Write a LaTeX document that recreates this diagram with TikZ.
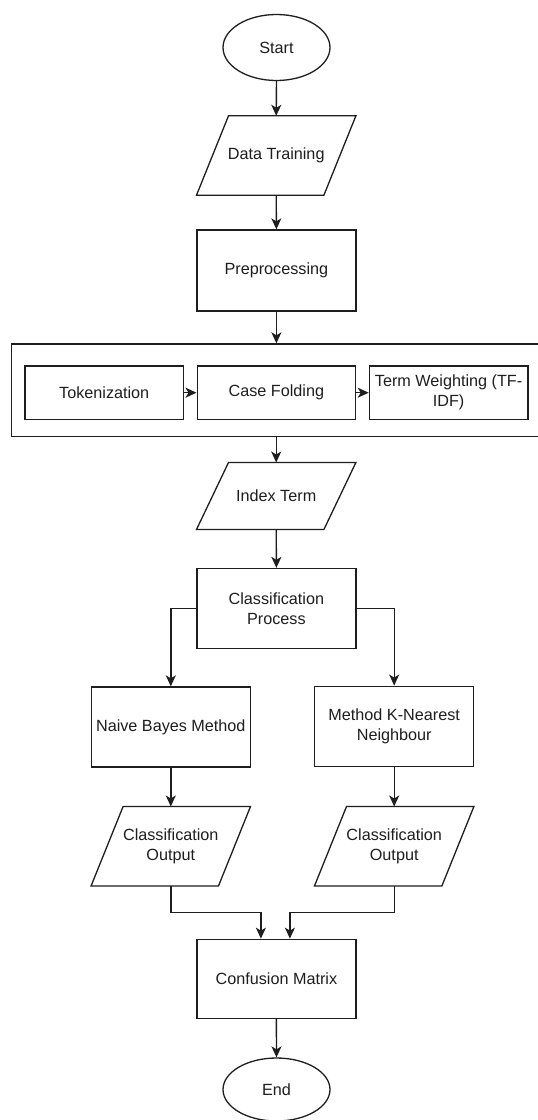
\documentclass[tikz,border=0pt]{standalone}
\usepackage{fontspec}
\setmainfont{Liberation Sans}
\usetikzlibrary{shapes.geometric,arrows.meta}
\definecolor{ink}{HTML}{1E1E1E}
\begin{document}
\begin{tikzpicture}[x=1pt,y=-1pt,
  every node/.style={font=\fontsize{16.2}{20}\selectfont, text=ink, align=center, inner sep=0pt},
  box/.style={rectangle, draw=ink, line width=1.3pt, minimum width=159pt, minimum height=80pt},
  smallbox/.style={rectangle, draw=ink, line width=1.3pt, minimum width=158.5pt, minimum height=53.3pt},
  term/.style={ellipse, draw=ink, line width=1.3pt, minimum width=107pt, minimum height=66pt},
  iobase/.style={rectangle, minimum width=159pt, minimum height=79pt},
  para/.style={draw=ink, line width=1.3pt, line join=miter},
  arr/.style={draw=ink, line width=1.4pt, -{Stealth[length=11pt,width=10pt,inset=3pt]}}
]
\clip (0,0) rectangle (538,1120);
\fill[white] (0,0) rectangle (538,1120);

% nodes
\node[term] (start) at (276.5,47.5) {Start};
\node[iobase] (dt) at (276.2,155.5) {Data Training};
\node[box, minimum height=81pt] (pre) at (276.4,270.5) {Preprocessing};
\node[rectangle, draw=ink, line width=1.3pt, minimum width=533.3pt, minimum height=92.7pt] (stage) at (278.35,390.3) {};
\node[smallbox] (tok) at (104.2,392.7) {Tokenization};
\node[smallbox] (cf) at (276.4,392.7) {Case Folding};
\node[smallbox] (tw) at (448.6,392.7) {Term Weighting (TF-\\IDF)};
\node[iobase, minimum height=66.6pt] (it) at (276.2,496) {Index Term};
\node[box] (cp) at (276.4,608.5) {Classification\\Process};
\node[box] (nb) at (170.8,727) {Naive Bayes Method};
\node[box] (knn) at (394.2,726.2) {Method K-Nearest\\Neighbour};
\node[iobase] (co1) at (170.8,846.2) {Classification\\Output};
\node[iobase] (co2) at (394.2,846.2) {Classification\\Output};
\node[box, minimum height=79pt] (cm) at (276.4,978.8) {Confusion Matrix};
\node[term, minimum height=63pt] (end) at (276.5,1089.5) {End};

% parallelogram outlines
\foreach \n in {dt,it,co1,co2}{
  \draw[para] (\n.south west) -- ([xshift=-32pt]\n.south east) -- (\n.north east) -- ([xshift=32pt]\n.north west) -- cycle;
}

% connectors
\draw[arr] (start.south) -- (dt.north);
\draw[arr] (dt.south) -- (pre.north);
\draw[arr] (pre.south) -- (pre.south |- stage.north);
\draw[arr] (tok.east) -- (cf.west);
\draw[arr] (cf.east) -- (tw.west);
\draw[arr] (it.north |- stage.south) -- (it.north);
\draw[arr] (it.south) -- (cp.north);
\draw[arr] (cp.west) -| (nb.north);
\draw[arr] (cp.east) -| (knn.north);
\draw[arr] (nb.south) -- (co1.north);
\draw[arr] (knn.south) -- (co2.north);
\draw[arr] (co1.south) -- ++(0,26.6) -| ([xshift=-15.5pt]cm.north);
\draw[arr] (co2.south) -- ++(0,26.6) -| ([xshift=13.5pt]cm.north);
\draw[arr] (cm.south) -- (end.north);
\end{tikzpicture}
\end{document}
